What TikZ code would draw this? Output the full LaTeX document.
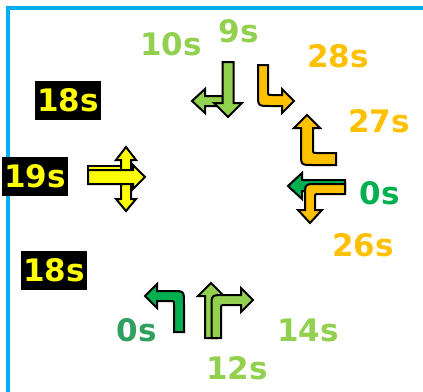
\documentclass[tikz,border=0pt]{standalone}
\usepackage{fontspec}
\setmainfont{DejaVu Sans}
\usepackage{tikz}
\usetikzlibrary{positioning}
\definecolor{frameblue}{RGB}{0,176,240}
\definecolor{lgreen}{RGB}{146,208,80}
\definecolor{dgreen}{RGB}{0,176,80}
\definecolor{tgreen}{RGB}{48,160,96}
\definecolor{amber}{RGB}{255,192,0}
\definecolor{lemon}{RGB}{255,255,0}

\begin{document}
\begin{tikzpicture}[x=1pt,y=-1pt,
  every node/.style={font=\fontsize{31}{31}\selectfont\bfseries,inner sep=0pt},
  timer/.style={fill=black,text=lemon,minimum width=66pt,minimum height=39pt},
  arw/.style={draw=black,line width=2pt,line join=miter}]
\useasboundingbox (0,0) rectangle (423,391);
\draw[frameblue,line width=4pt] (8,393) -- (8,8) -- (425,8);

\node[timer] (wA) at (68,100.5) {18s};
\node[timer] (wB) at (35,176.5) {19s};
\node[timer] (wC) at (54,270.5) {18s};

\node[text=lgreen] (nTen) at (171,44) {10s};
\node[text=lgreen] (nNine) at (239,31) {9s};
\node[text=amber] (nRight) at (338,56) {28s};
\node[text=amber] (eUp) at (379,121) {27s};
\node[text=dgreen] (eLeft) at (380,193) {0s};
\node[text=amber] (eDown) at (363,245) {26s};
\node[text=tgreen] (sLeft) at (137,330) {0s};
\node[text=lgreen] (sRight) at (308,330) {14s};
\node[text=lgreen] (sUp) at (237,368) {12s};

% north
\filldraw[arw,fill=lgreen] (226,96) -- (205,96) -- (205,89) -- (192,101) -- (205,113)
  -- (205,106) -- (226,106) -- cycle;
\filldraw[arw,fill=lgreen] (222.5,62) -- (233.5,62) -- (233.5,103) -- (242,103) -- (228,117)
  -- (214,103) -- (222.5,103) -- cycle;
\filldraw[arw,fill=amber] (258,65) -- (268,65) -- (268,91) .. controls (268,95) .. (272,95)
  -- (282,95) -- (282,89) -- (294,101) -- (282,113) -- (282,106) -- (270,106)
  .. controls (258,106) .. (258,94) -- cycle;

% east
\filldraw[arw,fill=amber] (336,153) -- (317,153) .. controls (313,153) .. (313,149)
  -- (313,128) -- (320,128) -- (307,115) -- (294,128) -- (301,128) -- (301,153)
  .. controls (301,165) .. (313,165) -- (336,165) -- cycle;
\filldraw[arw,fill=dgreen] (345,180) -- (302,180) -- (302,173) -- (288,186) -- (302,199)
  -- (302,191) -- (345,191) -- cycle;
\filldraw[arw,fill=amber] (345,184) -- (317,184) .. controls (305,184) .. (305,196)
  -- (305,210) -- (298,210) -- (310,223) -- (322,210) -- (315,210) -- (315,198)
  .. controls (315,194) .. (319,194) -- (345,194) -- cycle;

% south
\filldraw[arw,fill=dgreen] (174,332) -- (174,305) .. controls (174,301) .. (170,301)
  -- (157,301) -- (157,308) -- (145,296) -- (157,284) -- (157,291) -- (172,291)
  .. controls (184,291) .. (184,303) -- (184,332) -- cycle;
\filldraw[arw,fill=lgreen] (205,338) -- (205,296) -- (198,296) -- (211,283) -- (224,296)
  -- (216,296) -- (216,338) -- cycle;
\filldraw[arw,fill=lgreen] (211.5,338) -- (211.5,307) .. controls (211.5,295) .. (224,295)
  -- (241,295) -- (241,288) -- (253,300) -- (241,312) -- (241,305) -- (225,305)
  .. controls (221,305) .. (221,309) -- (221,338) -- cycle;

% west
\filldraw[arw,fill=lemon] (88,166) -- (122,166) -- (122,180) -- (88,180) -- cycle;
\filldraw[arw,fill=lemon] (121,199) -- (116,199) -- (126,211) -- (136,199) -- (131,199)
  -- (131,160) -- (136,160) -- (126,147) -- (116,160) -- (121,160) -- cycle;
\filldraw[arw,fill=lemon] (88,170) -- (133,170) -- (133,165) -- (145,177) -- (133,189)
  -- (133,184) -- (88,184) -- cycle;
\end{tikzpicture}
\end{document}
